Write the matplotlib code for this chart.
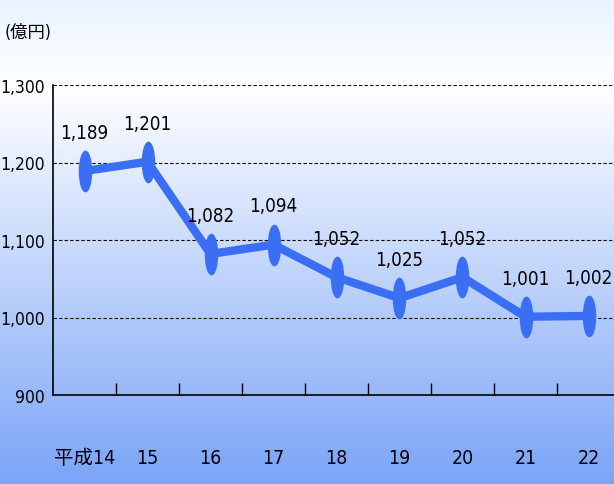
import numpy as np
import matplotlib
matplotlib.use('Agg')
import matplotlib.pyplot as plt
from matplotlib import font_manager
from matplotlib.path import Path
from matplotlib.transforms import Affine2D

# data
years = ['平成14', '15', '16', '17', '18', '19', '20', '21', '22']
amounts = [1189, 1201, 1082, 1094, 1052, 1025, 1052, 1001, 1002]
y_ticks = [900, 1000, 1100, 1200, 1300]
y_tick_labels = ['900', '1,000', '1,100', '1,200', '1,300']
unit_label = '(億円)'

# the original uses a very narrow font; take a condensed one if there is one
narrow = [f for f in font_manager.fontManager.ttflist
          if ('Condensed' in f.fname or 'Narrow' in f.fname)
          and not any(k in f.fname for k in ('Bold', 'Oblique', 'Italic', 'Light', 'Black', 'Thin', 'Medium', 'Semi'))]
if narrow:
    plt.rcParams['font.family'] = [narrow[0].name, 'Noto Sans CJK JP', 'DejaVu Sans']
    plt.rcParams['font.stretch'] = narrow[0].stretch
    fs = 1.0
else:
    plt.rcParams['font.family'] = ['DejaVu Sans', 'Noto Sans CJK JP']
    fs = 0.9

fig = plt.figure(figsize=(6.14, 4.85), dpi=100)

# background gradient (light at top, blue at bottom)
bg = fig.add_axes([0, 0, 1, 1], zorder=0)
h = 485
t = np.linspace(0, 1, h)
top = np.array([232, 244, 255]) / 255
white = np.array([255, 255, 255]) / 255
bottom = np.array([122, 164, 248]) / 255
grad = np.zeros((h, 1, 3))
for i, f in enumerate(t):
    if f < 0.18:
        c = top + (white - top) * f / 0.18
    else:
        c = white + (bottom - white) * (f - 0.18) / 0.82
    grad[i, 0] = c
bg.imshow(grad, aspect='auto', extent=[0, 1, 0, 1])
bg.axis('off')

ax = fig.add_axes([53 / 614, 89 / 485, 1 - 53 / 614, 310 / 485], zorder=1)
ax.patch.set_alpha(0)

x = np.arange(len(years))
ellipse = Path.unit_circle().transformed(Affine2D().scale(0.3, 1))
ax.plot(x, amounts, color='#3a6ef5', lw=6, marker=ellipse, ms=29,
        solid_joinstyle='round', zorder=3)

for xi, v in zip(x, amounts):
    ax.annotate(f'{v:,}', (xi, v), xytext=(0, 21), textcoords='offset points',
                ha='center', va='bottom', fontsize=13.5 * fs, color='black')

ax.set_xlim(-0.5, -0.5 + 561 / 63)
ax.set_ylim(900, 1300)

for yv in y_ticks[1:]:
    ax.axhline(yv, color='black', lw=0.8, ls=(0, (3, 2)), zorder=1)

ax.set_yticks(y_ticks)
ax.set_yticklabels(y_tick_labels)
ax.tick_params(axis='y', length=0, pad=6, labelsize=12.5 * fs)

ax.set_xticks(x)
ax.set_xticklabels(years)
ax.set_xticks(np.arange(0.5, len(years) - 1), minor=True)
ax.tick_params(axis='x', which='major', length=0, pad=38, labelsize=14 * fs)
ax.tick_params(axis='x', which='minor', direction='in', length=9, width=1)

for s in ['top', 'right']:
    ax.spines[s].set_visible(False)
ax.spines['left'].set_linewidth(1.2)
ax.spines['bottom'].set_linewidth(1.2)

fig.text(28 / 614, 1 - 33 / 485, unit_label, ha='center', va='center', fontsize=12.5 * fs)

fig.savefig('out.png', dpi=100)
